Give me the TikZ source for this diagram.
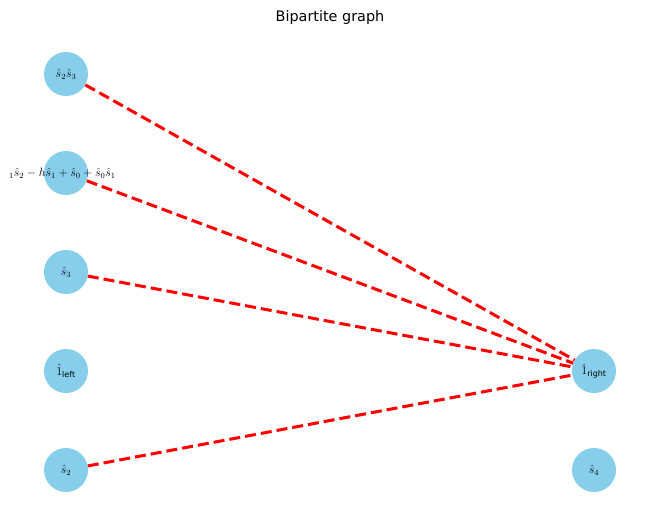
\documentclass[tikz,border=0pt]{standalone}
\usepackage{fontspec}
\setmainfont{DejaVu Sans}
\usetikzlibrary{positioning}
\definecolor{skyblue}{HTML}{87CEEB}
\tikzset{
  vert/.style={circle, fill=skyblue, minimum size=44pt, inner sep=0pt, font=\large},
  edge/.style={red, dashed, line width=3pt, dash pattern=on 11pt off 5pt}
}
\begin{document}
\begin{tikzpicture}[x=1pt,y=-1pt]
        \useasboundingbox (0,0) rectangle (660,522);
        \clip (0,0) rectangle (660,522);
        %%Title
        \node (title) at (330,18) {\Large Bipartite graph};
        %%Left vertices
        \node[vert] (a) at (66,74) {$\hat{s}_2\hat{s}_3$};
        \node[vert] (b) at (66,173) {};
        \node[vert] (c) at (66,272) {$\hat{s}_3$};
        \node[vert] (d) at (66,371) {$\hat{1}_{\mathrm{left}}$};
        \node[vert] (e) at (66,470) {$\hat{s}_2$};
        %%Right vertices
        \node[vert] (r) at (594,371) {$\hat{1}_{\mathrm{right}}$};
        \node[vert] (s) at (594,470) {$\hat{s}_4$};
        %%Edges
        \foreach \v in {a,b,c,e}
          \draw[edge] (\v) -- (r);
        \node[anchor=west, inner sep=0pt, font=\large] (blab) at (9,173)
          {${}_1\hat{s}_2 - h\hat{s}_1 + \hat{s}_0 + \hat{s}_0\hat{s}_1$};
\end{tikzpicture}
\end{document}
